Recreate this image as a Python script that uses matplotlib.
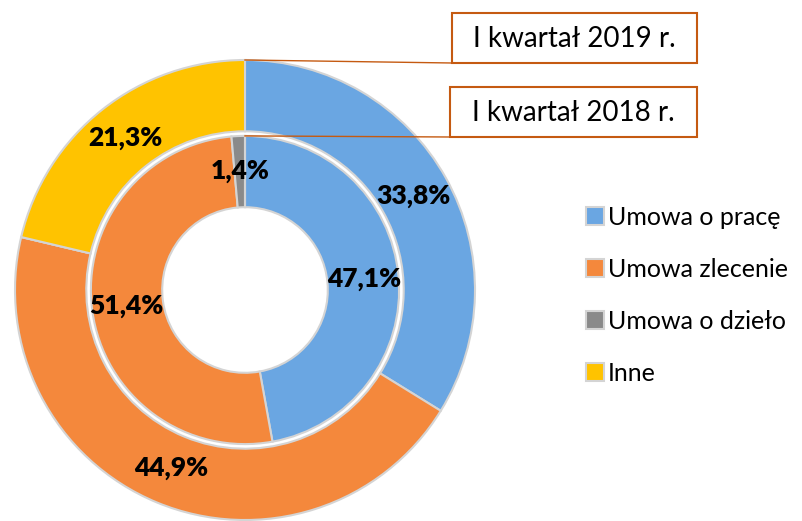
import matplotlib.pyplot as plt
from matplotlib.patches import Rectangle
import numpy as np

# dane
categories = ["Umowa o pracę", "Umowa zlecenie", "Umowa o dzieło", "Inne"]
share_2019 = [33.8, 44.9, 0.0, 21.3]   # pierścień zewnętrzny
share_2018 = [47.1, 51.4, 1.4, 0.0]    # pierścień wewnętrzny
ring_titles = ["I kwartał 2019 r.", "I kwartał 2018 r."]

colors = ["#6aa6e2", "#f4883c", "#8a8a8a", "#ffc300"]

plt.rcParams['font.family'] = ['Lato', 'DejaVu Sans']

W, H = 803, 521
fig = plt.figure(figsize=(W / 100, H / 100), dpi=100)

# środek koła (245, 290) px, promień 230 px
cx, cy, R = 245, 290, 230
half = 240
ax = fig.add_axes([(cx - half) / W, (H - cy - half) / H, 2 * half / W, 2 * half / H])
lim = half / R
ax.set_aspect('equal')
ax.axis('off')

outer_r, width = 1.0, 0.31
inner_r = 0.67

wedges_out, _ = ax.pie(share_2019, radius=outer_r, colors=colors, startangle=90,
                       counterclock=False,
                       wedgeprops=dict(width=width, edgecolor='#d4d4d4', linewidth=1.5))
wedges_in, _ = ax.pie(share_2018, radius=inner_r, colors=colors, startangle=90,
                      counterclock=False,
                      wedgeprops=dict(width=width, edgecolor='#d4d4d4', linewidth=1.5))
ax.set_xlim(-lim, lim)
ax.set_ylim(-lim, lim)


def put_labels(wedges, values, r_lab):
    for w, v in zip(wedges, values):
        if v < 1:
            continue
        ang = np.deg2rad((w.theta1 + w.theta2) / 2)
        ax.text(r_lab * np.cos(ang), r_lab * np.sin(ang), f"{v:.1f}%".replace('.', ','),
                ha='center', va='center', fontsize=19, fontweight='heavy', color='black')


put_labels(wedges_out, share_2019, 0.84)
put_labels(wedges_in, share_2018, 0.52)

# nakładka w pikselach: ramki i linie odniesienia
ov = fig.add_axes([0, 0, 1, 1], facecolor='none')
ov.set_xlim(0, W)
ov.set_ylim(H, 0)
ov.axis('off')

box_color = '#c55a11'
boxes = [(452, 13, 245, 50), (450, 87, 247, 50)]
for (bx, by, bw, bh), title, rr in zip(boxes, ring_titles, [outer_r, inner_r]):
    ov.add_patch(Rectangle((bx, by), bw, bh, fill=False, edgecolor=box_color, linewidth=1.5))
    ov.text(bx + bw / 2, by + bh / 2 + 1, title, ha='center', va='center', fontsize=20)
    px, py = ax.transData.transform((0, rr))
    ov.plot([px, bx], [H - py, by + bh], color=box_color, linewidth=1)

fig.legend(handles=wedges_out, labels=categories, loc='upper left',
           bbox_to_anchor=(574 / W, 1 - 193 / H), frameon=False, fontsize=18,
           handlelength=0.7, handleheight=0.7, handletextpad=0.15,
           labelspacing=1.16, borderpad=0)

fig.savefig('out.png', dpi=100)
